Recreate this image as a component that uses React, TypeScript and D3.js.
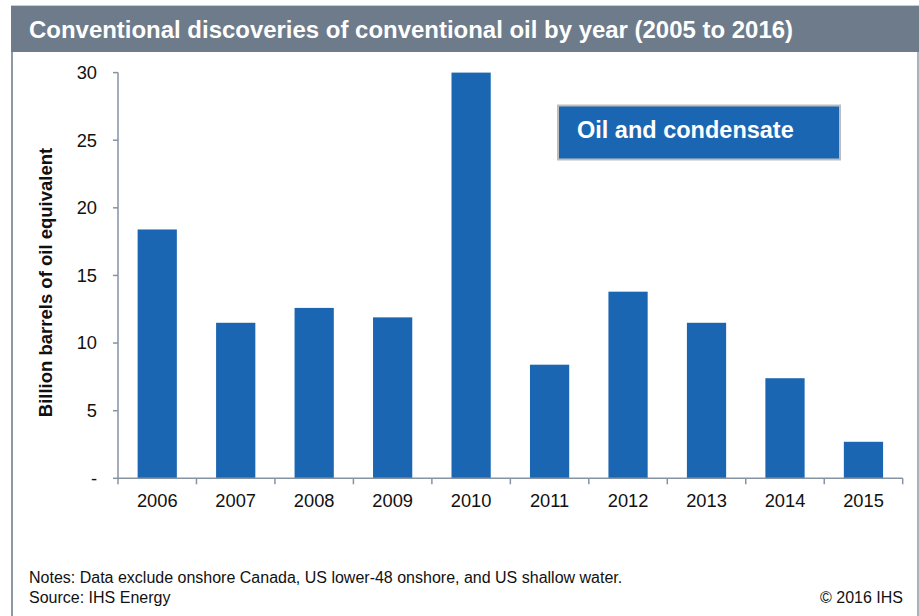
import React from "react";
import * as d3 from "d3";

const years = ["2006", "2007", "2008", "2009", "2010", "2011", "2012", "2013", "2014", "2015"];
const discoveries = [18.4, 11.5, 12.6, 11.9, 30.0, 8.4, 13.8, 11.5, 7.4, 2.7];
const yTicks = [0, 5, 10, 15, 20, 25, 30];
const yTickLabels = ["-", "5", "10", "15", "20", "25", "30"];
const title = "Conventional discoveries of conventional oil by year (2005 to 2016)";
const legendLabel = "Oil and condensate";
const yAxisTitle = "Billion barrels of oil equivalent";
const notes = "Notes: Data exclude onshore Canada, US lower-48 onshore, and US shallow water.";
const source = "Source: IHS Energy";
const copyright = "© 2016 IHS";

const W = 919;
const H = 616;
const FONT = "'Liberation Sans', Arial, Helvetica, sans-serif";
const BAR = "#1b66b2";
const AXIS = "#8593a3";
const FRAME = "#8e99a6";

export default function App() {
  const x = d3.scaleBand<string>().domain(years).range([118, 902.7]).paddingInner(0.5).paddingOuter(0.25);
  const y = d3.scaleLinear().domain([0, 30]).range([478.3, 72.6]);
  const bandStep = x.step();
  const boundaries = years.map((_, i) => 118 + i * bandStep).concat([902.7]);

  return (
    <svg width={W} height={H} style={{ position: "absolute", left: 0, top: 0, background: "#fff" }} fontFamily={FONT}>
      {/* frame */}
      <line x1={12} x2={12} y1={5} y2={H} stroke={FRAME} strokeWidth={2} />
      <line x1={918} x2={918} y1={5} y2={H} stroke={FRAME} strokeWidth={1.5} />
      <rect x={11} y={5} width={W - 11} height={47} fill="#6e7b8a" />
      <line x1={11} x2={W} y1={5.5} y2={5.5} stroke="#c9ced4" strokeWidth={1} />
      <text x={29} y={38} fill="#fff" fontSize={23.5} fontWeight="bold" textLength={764} lengthAdjust="spacingAndGlyphs">{title}</text>

      {/* y axis */}
      <line x1={118} x2={118} y1={y(30)} y2={y(0)} stroke={AXIS} strokeWidth={1.5} />
      {yTicks.map((t, i) => (
        <g key={t}>
          <line x1={113} x2={118} y1={y(t)} y2={y(t)} stroke={AXIS} strokeWidth={1.5} />
          <text x={97} y={y(t)} dy="0.35em" textAnchor="end" fontSize={18.3} fill="#111">{yTickLabels[i]}</text>
        </g>
      ))}
      <text transform={`translate(52, 282.5) rotate(-90)`} textAnchor="middle" fontSize={18.5} fontWeight="bold" fill="#111">{yAxisTitle}</text>

      {/* bars */}
      {years.map((yr, i) => (
        <rect key={yr} x={x(yr)} y={y(discoveries[i])} width={x.bandwidth()} height={y(0) - y(discoveries[i])} fill={BAR} />
      ))}

      {/* x axis */}
      <line x1={118} x2={902.7} y1={y(0)} y2={y(0)} stroke={AXIS} strokeWidth={1.5} />
      {boundaries.map((b, i) => (
        <line key={i} x1={b} x2={b} y1={y(0)} y2={y(0) + 6} stroke={AXIS} strokeWidth={1.5} />
      ))}
      {years.map((yr) => (
        <text key={yr} x={(x(yr) as number) + x.bandwidth() / 2} y={507} textAnchor="middle" fontSize={18.3} fill="#111">{yr}</text>
      ))}

      {/* legend box */}
      <rect x={558} y={105.5} width={282} height={54} fill={BAR} stroke="#bdbdbd" strokeWidth={2} />
      <text x={577} y={138} fill="#fff" fontSize={23.5} fontWeight="bold">{legendLabel}</text>

      {/* footer */}
      <text x={29} y={583} fontSize={16} fill="#111">{notes}</text>
      <text x={29} y={603} fontSize={16} fill="#111">{source}</text>
      <text x={903} y={603} textAnchor="end" fontSize={16} fill="#111">{copyright}</text>
    </svg>
  );
}
